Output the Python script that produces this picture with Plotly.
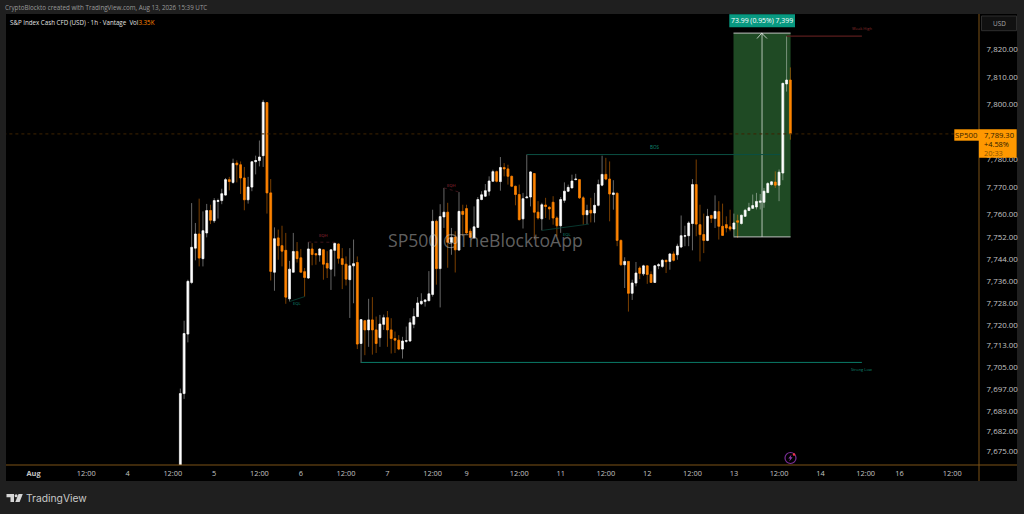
import math
import plotly.graph_objects as go

# hourly bars, first to last
opens = [7660,7695.5,7716.9,7735.5,7747.9,7753.0,7744.1,7753.4,7761.5,7757.8,7764.8,7765.1,7767.1,7772.7,7771.7,7778.7,7778.1,7773.3,7765.4,7770,
7779.2,7779.6,7781.4,7800.7,7767.9,7739.2,7751.6,7748.8,7747.1,7729.6,7739.2,7746.7,7744.4,7739.4,7737.1,7747.6,7745.9,7745.4,7747.3,7742.4,
7740.3,7747.1,7749.4,7744.1,7742.1,7736.5,7741.5,7742.7,7713.5,7721.7,7718.4,7722,7718.4,7715.6,7720.4,7722.8,7718.4,7715.3,7714.7,7711.5,
7714.3,7714.4,7720.4,7723.2,7727.8,7728.6,7728.9,7731.2,7757.6,7740.5,7759.2,7760.9,7750,7751.9,7747.2,7761.2,7762.2,7754,7751.6,7755.4,
7765.5,7766.7,7768.5,7772.1,7775.6,7772,7777.1,7776.6,7773.9,7770.3,7767.3,7758.5,7766.1,7766.4,7774.9,7760.9,7758.5,7763.5,7762.7,7764.5,
7758.8,7756,7765.2,7768.5,7769.7,7772.7,7772.7,7766.1,7760,7761.6,7760.6,7763.4,7770.7,7774.6,7772.9,7767.3,7767.8,7750.7,7741.9,7743.1,
7731.6,7735.3,7740.7,7738.6,7741.5,7738.4,7735.5,7741.5,7741.3,7743.5,7743.1,7745.8,7745.5,7748.3,7752.2,7752.4,7756.8,7770.9,7756.4,7752.8,
7750.7,7759.7,7758.6,7761.1,7755.8,7756.4,7755.6,7754.8,7757.8,7756.8,7759.4,7761.5,7762.3,7762.8,7764.5,7764.5,7768,7770.9,7771.8,7770.7,
7775.1,7807.5,7808.9]
highs = [7697.3,7721.7,7736.5,7764.2,7757.0,7765.8,7761.2,7763.9,7763.6,7766,7765.8,7769.4,7773.3,7773.7,7780.3,7779.7,7779.3,7777.3,7773.7,7779.3,
7781.4,7786.9,7801.7,7800.8,7772.9,7755.4,7754.6,7756,7753.4,7743.3,7753.4,7750.1,7747.6,7740.7,7750.1,7749.7,7746.1,7747.9,7747.6,7746.8,
7747.6,7750,7749.6,7747.9,7744.9,7747.9,7751,7744.9,7722.2,7722,7729.6,7730.2,7723.2,7723.8,7723.9,7725.2,7722.6,7717.8,7716.5,7715.9,
7719.6,7722.6,7726.2,7730.2,7731.6,7729.5,7739.6,7761.8,7758.2,7763.8,7769.7,7764.3,7755.2,7754,7768.2,7763.6,7763.6,7755,7763,7766.4,
7768.5,7771.1,7773.9,7776.3,7776,7780.9,7778.7,7778.1,7774.2,7770.5,7770.9,7767.9,7781.8,7775.8,7775.1,7764.9,7764.3,7766.1,7763,7766.7,
7759.4,7766.4,7771.7,7770.9,7774.5,7774.8,7772.9,7766.7,7763.6,7766.1,7767.9,7772.7,7781.4,7780.6,7779.3,7772.5,7767.9,7751,7744.6,7743.2,
7736.5,7742.9,7741.3,7741.9,7741.6,7739.5,7741.8,7742.5,7744,7743.7,7746.1,7746.7,7749.5,7759.7,7756,7757.6,7772.9,7780,7763.6,7760.4,
7762.1,7760,7767,7764.9,7764,7759.4,7761.8,7760.4,7760,7760,7762.1,7764.3,7767.3,7767.9,7767.5,7769.7,7771.8,7772.1,7775.7,7776.4,
7807.9,7824.9,7813.5]
lows = [7660,7693.6,7713.9,7734.9,7743.5,7741.3,7741.3,7751.8,7756.6,7757,7758.6,7763.8,7766.9,7768.8,7771.2,7771.7,7767.5,7761.6,7764,7768.5,
7774.6,7777.5,7777.3,7760.4,7736.2,7732.5,7743.7,7741.3,7727.8,7728.6,7739.2,7742.7,7739.1,7730.4,7736.8,7741.7,7741.9,7743,7736.5,7737.1,
7732.8,7737.7,7742.3,7733.1,7734.4,7722.7,7728,7711.5,7706.5,7709.3,7712.3,7709.5,7710.1,7712.3,7718.4,7712.3,7709.9,7710.1,7711.1,7708.1,
7713.8,7714.1,7719,7723,7727.4,7726.8,7728.8,7730.4,7734.7,7726.5,7755.2,7740.8,7745.5,7739.1,7747,7752.2,7753.1,7751.6,7751.5,7755.2,
7765.2,7766.4,7766.9,7772,7771.7,7768.7,7773.9,7770.9,7770,7763.4,7757.9,7755,7766,7763,7751,7758.2,7754.3,7758.8,7758.2,7756.4,
7752.2,7753.4,7764.3,7768.2,7769.6,7772.5,7765.7,7756.4,7756.6,7757.2,7757.2,7763,7770.3,7772.5,7757.6,7761.8,7748.6,7741.5,7733.5,7725,
7729.2,7734.1,7736.7,7737.9,7735,7735.3,7735.3,7740.3,7740.7,7738.9,7740.1,7743.1,7743.7,7747.9,7748.6,7748.6,7747.1,7752.2,7743.1,7746.1,
7750.4,7757,7755.2,7751,7752.4,7753.6,7754,7752.2,7751.6,7756.4,7759.2,7761.3,7762.1,7761.9,7761.9,7762.5,7767.9,7770.6,7769.7,7764.9,
7772.5,7804.7,7787.2]
closes = [7695.5,7717.1,7735.9,7748.2,7753.0,7744.3,7754.2,7761.5,7758.0,7765.1,7765.1,7767.6,7772.7,7772.0,7778.6,7778.1,7773.3,7765.4,7770,7779.2,
7779.6,7780.9,7800.8,7767.9,7739.5,7751.3,7748.8,7746.8,7730.2,7740.3,7746.7,7744.1,7739.2,7737.3,7747.6,7745.6,7745.5,7747.6,7742.1,7740.7,
7747.3,7749.6,7744.2,7742,7736.7,7741.5,7742.3,7713.3,7722.1,7718.4,7722,7718.4,7713.5,7720.5,7722.8,7718.4,7715.3,7714.7,7711.5,7714.4,
7714.5,7721,7723.2,7728.1,7728.7,7729.2,7731.4,7757.6,7740.5,7759.3,7760.9,7750,7751.7,7747.3,7761.2,7760.1,7753.4,7751.8,7755.6,7765.5,
7767.2,7768.7,7772.2,7775.6,7772.1,7777.1,7776.6,7773.9,7770.3,7767.3,7758.2,7765.8,7766.4,7775.5,7760.9,7758.8,7763.6,7763,7762.1,7758.8,
7756,7765.5,7768.5,7769.9,7772.2,7772.9,7766.1,7760,7761.5,7760.6,7763.4,7770.9,7774.6,7772.9,7767.5,7767.9,7750.7,7741.9,7743.1,7731.6,
7735.3,7738.9,7738.8,7741.5,7738.4,7735.5,7741.5,7741.9,7743.5,7743,7745.8,7743.5,7748.6,7752.4,7752.4,7757,7770.9,7756.6,7752.8,7750.7,
7759.4,7758.7,7761.2,7755.8,7752.5,7755.2,7754.8,7757,7757.3,7759.8,7761.6,7762.5,7763.3,7764.8,7764.9,7768.5,7771.3,7771.9,7770.7,7775.4,
7807.7,7808.9,7789.3]
bars = list(range(len(closes)))

# axes
price_ticks = [7820,7810,7800,7780,7770,7760,7752,7744,7736,7728,7720,7713,7705,7697,7689,7682,7675]
price_labels = [f"{p:,.2f}" for p in price_ticks]
time_ticks = [-39,-25,-14,-2,9,21,32,44,55,67,76,90,101,113,124,136,147,159,170,182,191,205]
time_labels = ["<b>Aug</b>","12:00","4","12:00","5","12:00","6","12:00","7","12:00","9","12:00","11","12:00","12","12:00","13","12:00","14","12:00","16","12:00"]

# drawn levels and study
last_price = 7789.3
projection = (146.9, 162.06, 7752.0, 7826.0)
bos = (92, 159.3, 7781.8)
strong_low = (48, 181, 7706.7)
weak_high = (161, 181, 7824.9)
eqh = [(34, 7750.1, 41, 7750.0), (70, 7769.7, 74, 7768.2)]
eql = [(29, 7728.6, 33, 7730.4), (96, 7754.3, 108.5, 7756.6)]

W, H = 1024, 514
L, R, T, B = 6, 979, 14, 465
FONT = "Open Sans"
BG, PANEL = "#1f1f1f", "#000000"
ORANGE, TEAL, AXIS = "#ff8400", "#089981", "#7d5316"
WHITE_WICK, ORANGE_WICK = "rgba(255,255,255,0.4)", "rgba(255,132,0,0.48)"

def px(x): return (x - L) / (R - L)
def py(y): return (B - y) / (B - T)

fig = go.Figure()
fig.add_trace(go.Candlestick(x=bars, open=opens, high=highs, low=lows, close=closes,
    increasing=dict(line=dict(color=WHITE_WICK, width=1), fillcolor="rgba(0,0,0,0)"),
    decreasing=dict(line=dict(color=ORANGE_WICK, width=1), fillcolor="rgba(0,0,0,0)"),
    hoverinfo="skip", showlegend=False))
fig.add_trace(go.Candlestick(x=bars, open=opens, close=closes,
    high=[max(a, b) for a, b in zip(opens, closes)],
    low=[min(a, b) for a, b in zip(opens, closes)],
    increasing=dict(line=dict(color="#ffffff", width=0.5), fillcolor="#ffffff"),
    decreasing=dict(line=dict(color=ORANGE, width=0.5), fillcolor=ORANGE),
    hoverinfo="skip", showlegend=False))

shapes = []
def rect(x0, y0, x1, y1, fill, line=None, layer="above", lw=1):
    shapes.append(dict(type="rect", xref="paper", yref="paper", x0=px(x0), x1=px(x1), y0=py(y1), y1=py(y0),
                       fillcolor=fill, line=dict(color=line or "rgba(0,0,0,0)", width=lw if line else 0), layer=layer))
def seg(x0, y0, x1, y1, color, w=1, dash="solid", layer="above"):
    shapes.append(dict(type="line", xref="x", yref="y", x0=x0, x1=x1, y0=y0, y1=y1,
                       line=dict(color=color, width=w, dash=dash), layer=layer))
def pseg(x0, y0, x1, y1, color, w=1):
    shapes.append(dict(type="line", xref="paper", yref="paper", x0=px(x0), x1=px(x1), y0=py(y0), y1=py(y1),
                       line=dict(color=color, width=w), layer="above"))
def poly(points, fill):
    path = "M " + " L ".join(f"{px(a):.5f},{py(b):.5f}" for a, b in points) + " Z"
    shapes.append(dict(type="path", xref="paper", yref="paper", path=path, fillcolor=fill, line=dict(width=0), layer="above"))

# panels
rect(6, 14, 1017, 481, PANEL, layer="below")

# projection box
x0, x1, lo, hi = projection
mid = (x0 + x1) / 2
seg(x0, lo, x1, lo, "rgba(255,255,255,0.6)", 1.2)
seg(x0, hi, x1, hi, "rgba(255,255,255,0.6)", 1.2)
seg(mid, lo, mid, hi, "rgba(255,255,255,0.55)", 1.2)
shapes.append(dict(type="rect", xref="x", yref="y", x0=x0, x1=x1, y0=lo, y1=hi,
                   fillcolor="#1f4a24", line=dict(width=0), layer="below"))
pseg(757, 38.5, 761.7, 33.2, "rgba(255,255,255,0.7)", 1)
pseg(761.7, 33.2, 767, 38.5, "rgba(255,255,255,0.7)", 1)

# levels
seg(bos[0], bos[2], bos[1], bos[2], "#0b4f43", 1)
seg(strong_low[0], strong_low[2], strong_low[1], strong_low[2], "#0a7a68", 1)
seg(weak_high[0], weak_high[2], weak_high[1], weak_high[2], "#5a1c1c", 1.2)
for a, b, c, d in eqh:
    seg(a, b, c, d, "#4a1820", 0.8, "dot")
for a, b, c, d in eql:
    seg(a, b, c, d, "#0a453a", 0.8)
seg(-47, last_price, 212.5, last_price, "#3d2300", 1, "dot")

# axis borders
pseg(6, 465, 1017, 465, AXIS, 1)
pseg(979, 14, 979, 481, AXIS, 1)

# USD button and price tags
shapes.append(dict(type="rect", xref="paper", yref="paper", x0=px(981.5), x1=px(1016.5), y0=py(30.7), y1=py(16),
                   fillcolor="#111111", line=dict(color="#2e2e2e", width=1), layer="above"))
rect(954.3, 129.3, 979.5, 140.7, "#ff9800")
rect(979, 129.3, 1016.7, 157.7, "#ff9800")

# bolt badge
shapes.append(dict(type="circle", xref="paper", yref="paper", x0=px(785), x1=px(796), y0=py(463.5), y1=py(452.5),
                   fillcolor="rgba(0,0,0,0)", line=dict(color="#7a2e96", width=1.2), layer="above"))
poly([(791.5, 454.5), (788.3, 458.6), (790.2, 458.6), (789.2, 461.5), (792.6, 457.2), (790.7, 457.2)], "#8f3cae")
shapes.append(dict(type="circle", xref="paper", yref="paper", x0=px(792.7), x1=px(795.3), y0=py(455.8), y1=py(453.2),
                   fillcolor="#f23645", line=dict(width=0), layer="above"))

# TradingView logo
poly([(6.5, 494), (14, 494), (14, 502), (10.5, 502), (10.5, 497.3), (6.5, 497.3)], "#d6d6d6")
shapes.append(dict(type="circle", xref="paper", yref="paper", x0=px(14.6), x1=px(17.6), y0=py(497.2), y1=py(494.2),
                   fillcolor="#d6d6d6", line=dict(width=0), layer="above"))
poly([(18.5, 494), (22.8, 494), (19.6, 502), (15.3, 502)], "#d6d6d6")

ann = []
def text(x, y, s, size, color, anchor="left", family=FONT):
    ann.append(dict(xref="paper", yref="paper", x=px(x), y=py(y), text=s, showarrow=False,
                    xanchor=anchor, yanchor="middle", align=anchor,
                    font=dict(family=family, size=size, color=color)))

text(3.2, 7.5, "CryptoBlockto created with TradingView.com, Aug 13, 2026 15:39 UTC", 6.25, "#9a9a9a")
text(8, 22.5, f'S&P Index Cash CFD (USD) · 1h · Vantage  Vol<span style="color:{ORANGE}">3.35K</span>', 6.2, "#e0e0e0")
text(485.5, 240, "SP500 @TheBlocktoApp", 17.6, "rgba(205,205,205,0.48)", "center")
text(654.5, 147, "BOS", 4.6, "#0f8a73", "center")
text(862, 369, "Strong Low", 4, "#0f8a73", "center")
text(862, 29, "Weak High", 4, "#8a2c2c", "center")
text(323, 236, "EQH", 4.2, "#a32c3c", "center")
text(451, 185.7, "EQH", 4.2, "#a32c3c", "center")
text(297, 303, "EQL", 4.2, "#0f8a73", "center")
text(567.5, 234, "EQL", 4.2, "#0f8a73", "center")
text(999, 23.5, "USD", 6.4, "#a8a8a8", "center")
text(966.8, 135, "SP500", 7.8, "#3a2400", "center")
text(999, 135, "7,789.30", 7.6, "#2a1b00", "center")
text(996, 144, "+4.58%", 7.4, "#2a1b00", "center")
text(993.7, 152.6, "20:33", 7.4, "#8a5400", "center")
text(24.2, 498, "TradingView", 10.3, "#c8c8c8", "left", "Inter")

# projection label (above the panel top edge)
rect(729.3, 14.3, 795, 27.3, TEAL)
text(762, 20.8, "73.99 (0.95%) 7,399", 6.9, "#ffffff", "center")

fig.update_layout(
    width=W, height=H, autosize=False,
    margin=dict(l=L, r=W - R, t=T, b=H - B, pad=0),
    paper_bgcolor=BG, plot_bgcolor=PANEL,
    boxmode="overlay", showlegend=False,
    shapes=shapes, annotations=ann,
    font=dict(family=FONT, color="#c8c8c8"),
    xaxis=dict(type="linear", range=[-46.3, 212.1], rangeslider=dict(visible=False),
               tickmode="array", tickvals=time_ticks, ticktext=time_labels,
               showgrid=False, zeroline=False, showline=False,
               ticks="outside", ticklen=1, tickcolor="rgba(0,0,0,0)",
               tickfont=dict(family=FONT, size=7.4, color="#c4c4c4")),
    yaxis=dict(type="log", side="right", range=[math.log10(7669.9), math.log10(7833.0)],
               tickmode="array", tickvals=price_ticks, ticktext=price_labels,
               showgrid=False, zeroline=False, showline=False,
               ticks="outside", ticklen=5, tickcolor="rgba(0,0,0,0)",
               tickfont=dict(family=FONT, size=7.9, color="#c4c4c4")),
)

fig.write_html("out.html", config={"displayModeBar": False},
               post_script="document.body.style.margin='0';document.body.style.background='#1f1f1f';")
